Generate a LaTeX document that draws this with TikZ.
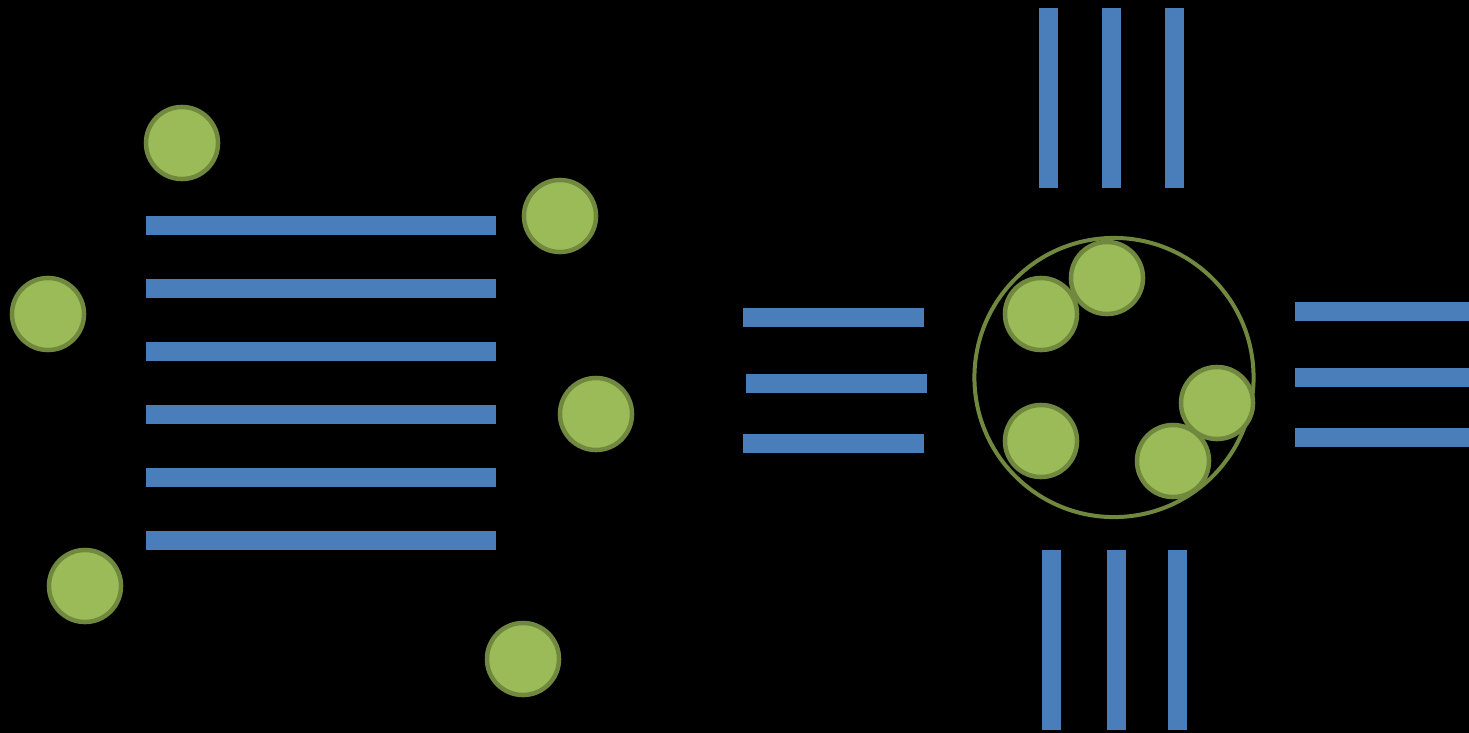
\documentclass[tikz,border=0pt]{standalone}
\usepackage{tikz}
\usetikzlibrary{arrows,shapes}
\definecolor{barblue}{HTML}{4A7EBB}
\definecolor{ballgreen}{HTML}{9BBB59}
\definecolor{rimgreen}{HTML}{71893F}
\tikzstyle{ball}=[circle, fill=ballgreen, draw=rimgreen, line width=0.045cm, inner sep=0pt, minimum size = 0.72cm]
\tikzstyle{hbar}=[rectangle, fill=barblue, draw=none, inner sep=0pt, minimum height = 0.19cm]
\tikzstyle{vbar}=[rectangle, fill=barblue, draw=none, inner sep=0pt, minimum width = 0.19cm, minimum height = 1.8cm]
\tikzstyle{cell} = [draw=rimgreen, line width=0.04cm, fill=none]

\begin{document}
\begin{tikzpicture}[x=0.01cm, y=-0.01cm]
	\useasboundingbox[fill=black] (0,0) rectangle (1469,733);

	% First the long bars on the left
	\foreach \y/\label in {225.5/l1, 288.5/l2, 351.5/l3, 414.5/l4, 477.5/l5, 540.5/l6}
	\node[hbar, minimum width = 3.5cm] (\label) at (321,\y) {};

	% Free balls round them
	\foreach \pos/\label in {
		{(182,143)/b1},
		{(560,216)/b2},
		{(48,314)/b3},
		{(596,414)/b4},
		{(85,586)/b5},
		{(523,659)/b6}}
	\node[ball] (\label) at \pos {};

	% Short bars in the middle
	\foreach \pos/\label in {
		{(833.5,317.5)/m1},
		{(836.5,383.5)/m2},
		{(833.5,443.5)/m3}}
	\node[hbar, minimum width = 1.81cm] (\label) at \pos {};

	% The cell with the balls inside
	\node[circle, cell, inner sep=0pt, minimum size = 2.79cm] (cell) at (1114,377.5) {};
	\foreach \pos/\label in {
		{(1041,314)/c1},
		{(1107,278)/c2},
		{(1217,403)/c3},
		{(1041,441)/c4},
		{(1173,461)/c5}}
	\node[ball] (\label) at \pos {};

	% Bars above, below and on the right of the cell
	\foreach \x/\label in {1048.5/t1, 1111.5/t2, 1174.5/t3}
	\node[vbar] (\label) at (\x,98) {};
	\foreach \x/\label in {1051.5/u1, 1116.5/u2, 1177.5/u3}
	\node[vbar] (\label) at (\x,640) {};
	\foreach \y/\label in {311.5/r1, 377.5/r2, 437.5/r3}
	\node[hbar, minimum width = 1.74cm] (\label) at (1382,\y) {};

\end{tikzpicture}
\end{document}
